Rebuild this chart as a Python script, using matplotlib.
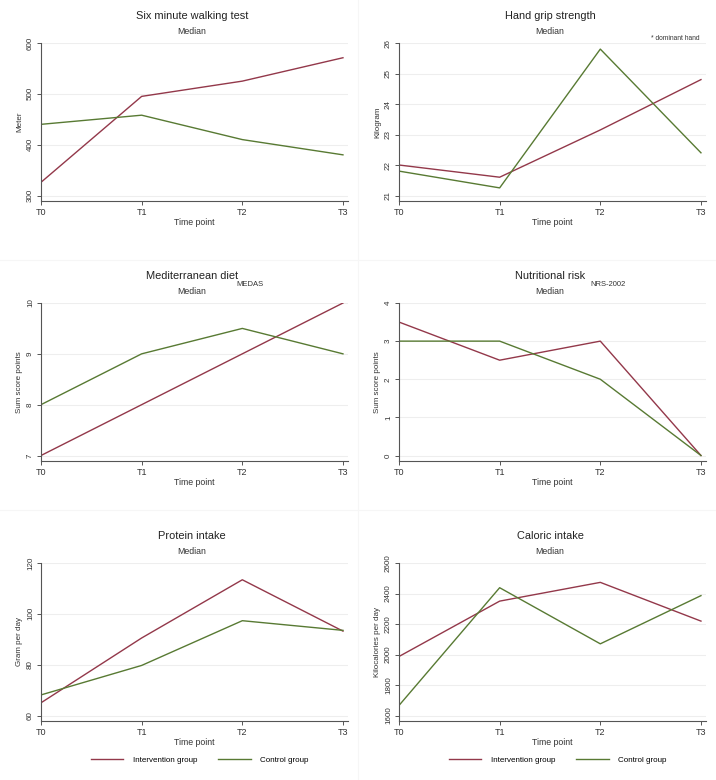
import matplotlib
matplotlib.use("Agg")
import matplotlib.pyplot as plt
from matplotlib.lines import Line2D

plt.rcParams['font.family'] = ['Liberation Sans Narrow', 'Liberation Sans', 'DejaVu Sans']

time_points = ['T0', 'T1', 'T2', 'T3']
group_names = ['Intervention group', 'Control group']

walk_int = [326, 495, 525, 571]
walk_ctl = [440, 458, 410, 380]

grip_int = [22.0, 21.6, 23.15, 24.8]
grip_ctl = [21.8, 21.25, 25.8, 22.4]

medas_int = [7, 8, 9, 10]
medas_ctl = [8, 9, 9.5, 9]

nrs_int = [3.5, 2.5, 3, 0]
nrs_ctl = [3, 3, 2, 0]

protein_int = [65, 90.5, 113.4, 93.2]
protein_ctl = [68.1, 79.7, 97.3, 93.5]

kcal_int = [1987, 2350, 2473, 2219]
kcal_ctl = [1666, 2438, 2070, 2386]

red = '#93384a'
green = '#587a33'

W, H = 716, 780
fig = plt.figure(figsize=(W / 100, H / 100), dpi=100)

# faint panel separators
sep = '#f6f6f6'
fig.add_artist(Line2D([358 / W, 358 / W], [0, 1], color=sep, lw=0.8))
fig.add_artist(Line2D([0, 1], [1 - 260 / H, 1 - 260 / H], color=sep, lw=0.8))
fig.add_artist(Line2D([0, 1], [1 - 510 / H, 1 - 510 / H], color=sep, lw=0.8))

panels = [
    # title, ylabel, yticks, int, ctl, col, top px, extra
    ("Six minute walking test", "Meter", [300, 400, 500, 600], walk_int, walk_ctl, 0, 43, None),
    ("Hand grip strength", "Kilogram", [21, 22, 23, 24, 25, 26], grip_int, grip_ctl, 1, 43, None),
    ("Mediterranean diet", "Sum score points", [7, 8, 9, 10], medas_int, medas_ctl, 0, 303, "MEDAS"),
    ("Nutritional risk", "Sum score points", [0, 1, 2, 3, 4], nrs_int, nrs_ctl, 1, 303, "NRS-2002"),
    ("Protein intake", "Gram per day", [60, 80, 100, 120], protein_int, protein_ctl, 0, 563, None),
    ("Caloric intake", "Kilocalories per day", [1600, 1800, 2000, 2200, 2400, 2600], kcal_int, kcal_ctl, 1, 563, None),
]

for title, ylabel, yticks, yi, yc, col, top, extra in panels:
    x0 = 41 + col * 358
    ax = fig.add_axes([x0 / W, 1 - (top + 158) / H, 307 / W, 158 / H])
    xs = range(len(time_points))
    ax.plot(xs, yi, color=red, lw=1.0)
    ax.plot(xs, yc, color=green, lw=1.0)
    lo, hi = yticks[0], yticks[-1]
    ax.set_ylim(lo - 0.036 * (hi - lo), hi)
    ax.set_xlim(0, 3.05)
    ax.set_yticks(yticks)
    ax.set_yticklabels([str(t) for t in yticks], rotation=90, va='center', fontsize=5.8)
    ax.set_xticks(list(xs))
    ax.set_xticklabels(time_points, fontsize=6.5)
    ax.grid(axis='y', color='#eeeeee', lw=0.8)
    ax.set_axisbelow(True)
    for s in ['top', 'right']:
        ax.spines[s].set_visible(False)
    for s in ['left', 'bottom']:
        ax.spines[s].set_color('#555555')
        ax.spines[s].set_linewidth(0.8)
    ax.tick_params(length=3, width=0.7, color='#555555', labelcolor='#333333', pad=2)
    ax.set_xlabel("Time point", fontsize=6.3, labelpad=1, color='#333333')
    ax.set_ylabel(ylabel, fontsize=5.8, labelpad=3, color='#333333')

    cx = (x0 + 151) / W
    fig.text(cx, 1 - (top - 27) / H, title, ha='center', va='center', fontsize=7.9, color='#222222')
    fig.text(cx, 1 - (top - 12) / H, "Median", ha='center', va='center', fontsize=6.3, color='#333333')
    if extra:
        fig.text((x0 + 209) / W, 1 - (top - 18) / H, extra, ha='center', va='center', fontsize=5.5, color='#333333')
    if title == "Hand grip strength":
        fig.text((x0 + 276) / W, 1 - 39 / H, "* dominant hand", ha='center', va='center', fontsize=4.8, color='#333333')

    if top == 563:
        handles = [Line2D([], [], color=red, lw=1.0), Line2D([], [], color=green, lw=1.0)]
        ax.legend(handles, group_names, loc='center', bbox_to_anchor=(0.518, -0.245), ncol=2,
                  frameon=False, fontsize=5.8, handlelength=4.0, columnspacing=2.6, handletextpad=1.2)

fig.savefig("out.png", dpi=100)
